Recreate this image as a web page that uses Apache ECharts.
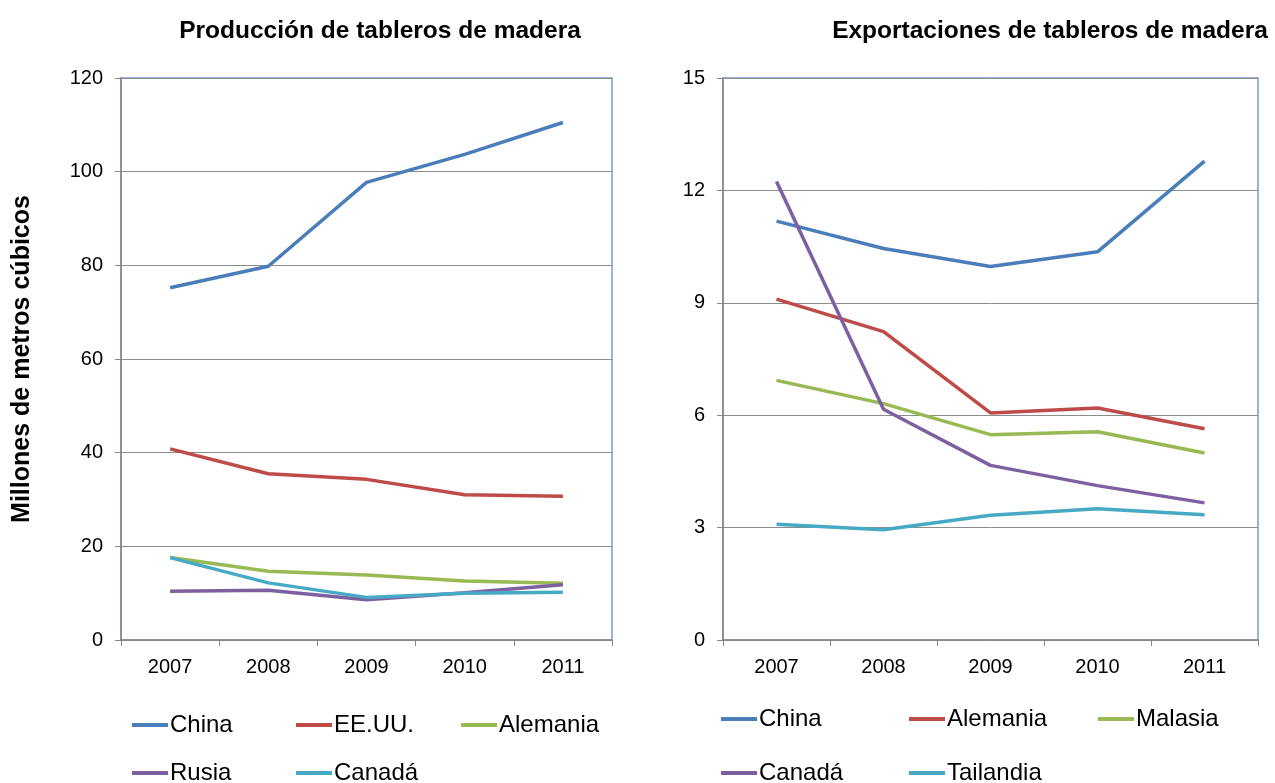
<!DOCTYPE html>
<html>
<head>
<meta charset="utf-8">
<script src="https://cdn.jsdelivr.net/npm/echarts@6/dist/echarts.min.js"></script>
<style>
  html, body { margin: 0; padding: 0; background: #fff; }
  #main { width: 1275px; height: 783px; }
</style>
</head>
<body>
<div id="main"></div>
<script>
  // years and values (millones de m3)
  var years = ['2007', '2008', '2009', '2010', '2011'];

  var prodChina = [75.2, 79.8, 97.7, 103.7, 110.5];
  var prodEEUU = [40.8, 35.5, 34.3, 31.0, 30.7];
  var prodAlemania = [17.6, 14.7, 13.9, 12.6, 12.1];
  var prodRusia = [10.4, 10.6, 8.6, 10.1, 11.8];
  var prodCanada = [17.6, 12.2, 9.1, 10.0, 10.2];

  var expChina = [11.18, 10.45, 9.97, 10.36, 12.78];
  var expAlemania = [9.10, 8.23, 6.06, 6.19, 5.64];
  var expMalasia = [6.93, 6.31, 5.48, 5.56, 4.99];
  var expCanada = [12.24, 6.16, 4.66, 4.12, 3.66];
  var expTailandia = [3.09, 2.94, 3.33, 3.50, 3.34];

  var FONT = 'Liberation Sans, Arial, sans-serif';
  var BLUE = '#4a7ebb', RED = '#be4b48', GREEN = '#98b954', PURPLE = '#7d60a0', CYAN = '#46aac5';

  var chart = echarts.init(document.getElementById('main'));

  function xAx(gi) {
    return {
      type: 'category', gridIndex: gi, data: years, boundaryGap: true,
      axisLine: {lineStyle: {color: '#878787', width: 1.5}},
      axisTick: {show: true, length: 6, lineStyle: {color: '#878787'}},
      axisLabel: {color: '#000', fontSize: 20, fontFamily: FONT, margin: 17}
    };
  }
  function yAx(gi, max, step, extra) {
    var a = {
      type: 'value', gridIndex: gi, min: 0, max: max, interval: step,
      axisLine: {show: true, lineStyle: {color: '#878787', width: 1.5}},
      axisTick: {show: true, length: 6, lineStyle: {color: '#878787'}},
      axisLabel: {color: '#000', fontSize: 20, fontFamily: FONT, margin: 18},
      splitLine: {lineStyle: {color: '#8c8c8c', width: 1}}
    };
    for (var k in extra) a[k] = extra[k];
    return a;
  }
  function line(name, gi, data, color) {
    return {
      name: name, type: 'line', xAxisIndex: gi, yAxisIndex: gi, data: data,
      symbol: 'none', color: color, lineStyle: {width: 3.5, color: color},
      emphasis: {disabled: true}, animation: false
    };
  }
  function leg(name, x, y) {
    return {
      data: [name], left: x, top: y, padding: 0, icon: 'rect', itemWidth: 36, itemHeight: 4,
      selectedMode: false,
      textStyle: {color: '#000', fontSize: 24, fontFamily: FONT, padding: [0, 0, 0, -3]}
    };
  }

  var option = {
    backgroundColor: '#fff',
    title: [
      {text: 'Producción de tableros de madera', left: 375, top: 14, textAlign: 'center',
        textStyle: {fontSize: 24.5, fontWeight: 'bold', color: '#000', fontFamily: FONT}},
      {text: 'Exportaciones de tableros de madera', left: 1045, top: 14, textAlign: 'center',
        textStyle: {fontSize: 24.5, fontWeight: 'bold', color: '#000', fontFamily: FONT}}
    ],
    grid: [
      {left: 121, right: 663, top: 78, bottom: 143, show: true, borderColor: '#7b9bd0', borderWidth: 1.5},
      {left: 723, right: 17, top: 78, bottom: 143, show: true, borderColor: '#7b9bd0', borderWidth: 1.5}
    ],
    xAxis: [xAx(0), xAx(1)],
    yAxis: [
      yAx(0, 120, 20, {
        name: 'Millones de metros cúbicos', nameLocation: 'middle', nameRotate: 90, nameGap: 86,
        nameTextStyle: {fontSize: 25, fontWeight: 'bold', color: '#000', fontFamily: FONT}
      }),
      yAx(1, 15, 3, {})
    ],
    legend: [
      leg('China', 132, 713), leg('EE.UU.', 296, 713), leg('Alemania', 461, 713),
      leg('Rusia', 132, 761), leg('Canadá', 296, 761),
      leg('China ', 721, 707), leg('Alemania ', 909, 707), leg('Malasia', 1098, 707),
      leg('Canadá ', 721, 761), leg('Tailandia', 909, 761)
    ],
    series: [
      line('China', 0, prodChina, BLUE),
      line('EE.UU.', 0, prodEEUU, RED),
      line('Alemania', 0, prodAlemania, GREEN),
      line('Rusia', 0, prodRusia, PURPLE),
      line('Canadá', 0, prodCanada, CYAN),
      line('China ', 1, expChina, BLUE),
      line('Alemania ', 1, expAlemania, RED),
      line('Malasia', 1, expMalasia, GREEN),
      line('Canadá ', 1, expCanada, PURPLE),
      line('Tailandia', 1, expTailandia, CYAN)
    ]
  };

  chart.setOption(option);
</script>
</body>
</html>
